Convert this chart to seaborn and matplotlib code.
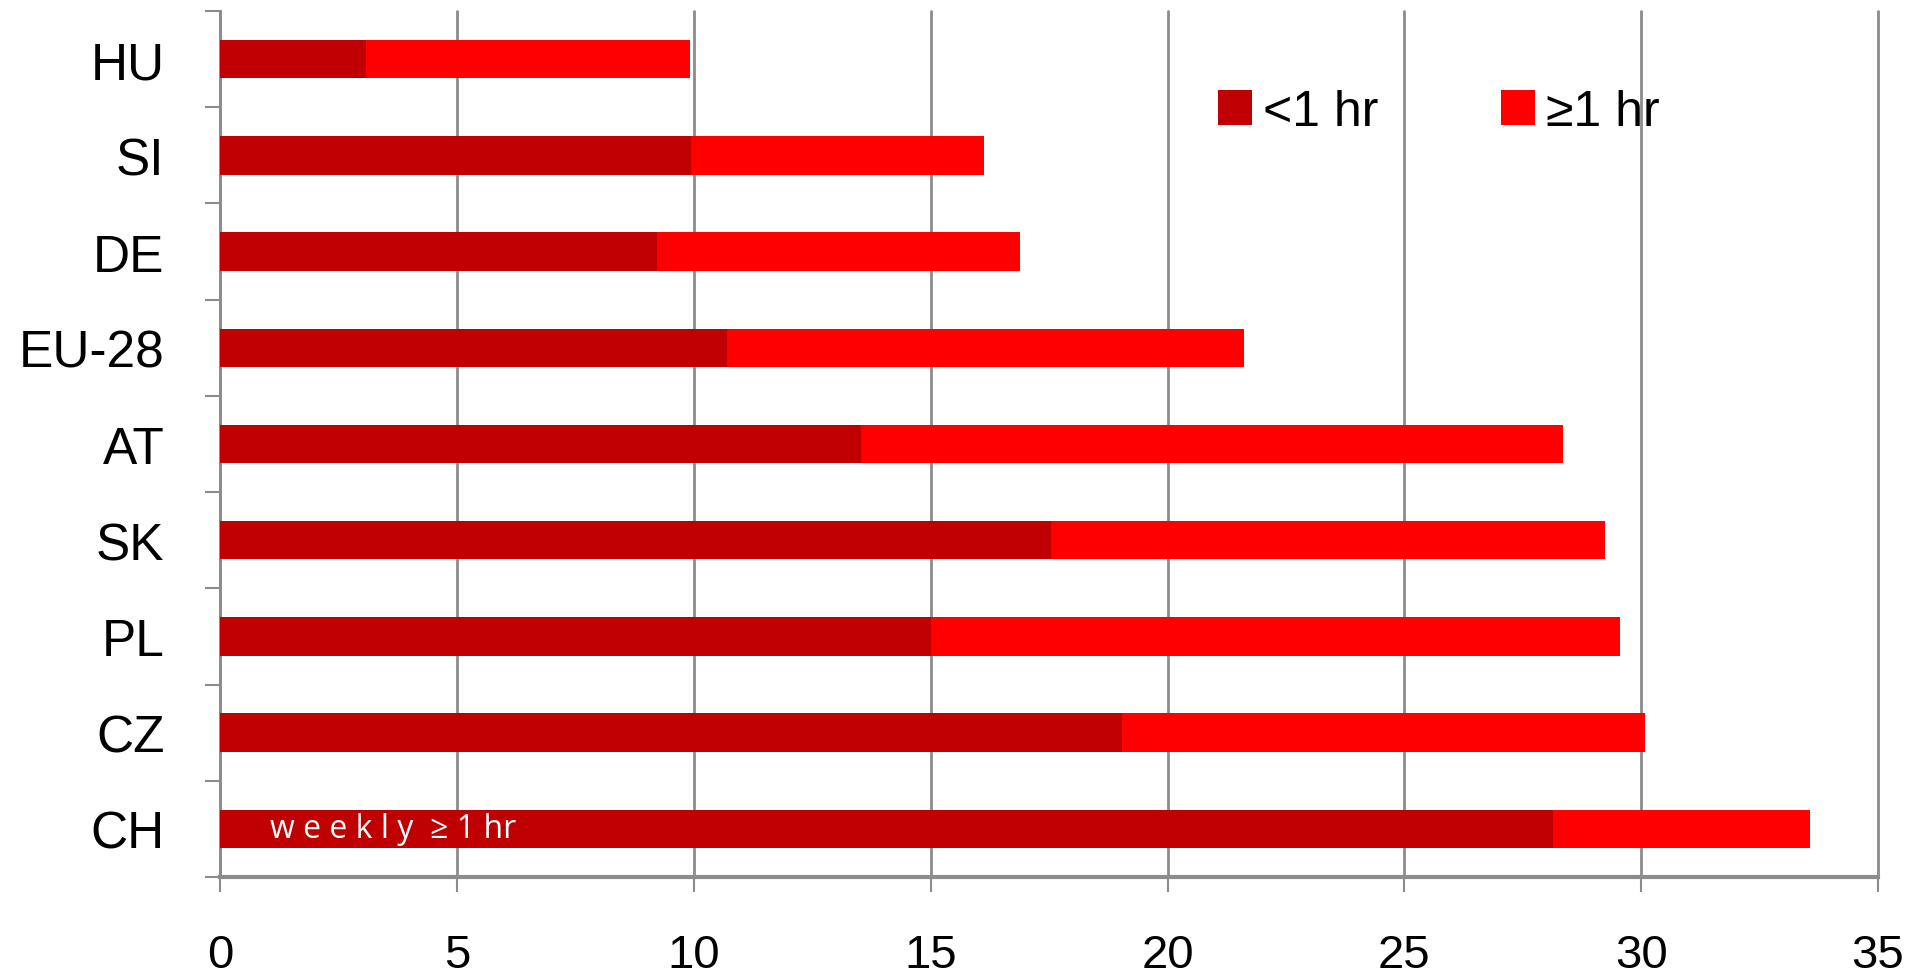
import matplotlib
matplotlib.use("Agg")
import matplotlib.pyplot as plt
from matplotlib.patches import Patch
import numpy as np
import pandas as pd
import seaborn as sns

# Share of respondents by country: short (<1 hr) and longer (>=1 hr) weekly activity
countries = ["HU", "SI", "DE", "EU-28", "AT", "SK", "PL", "CZ", "CH"]
under_1hr = [3.07, 9.94, 9.22, 10.70, 13.54, 17.54, 15.01, 19.04, 28.13]
over_1hr = [6.85, 6.19, 7.67, 10.92, 14.80, 11.70, 14.54, 11.03, 5.43]
x_ticks = [0, 5, 10, 15, 20, 25, 30, 35]

DARK = "#C00000"
BRIGHT = "#FF0000"
GRID = "#8C8C8C"

df = pd.DataFrame({"country": countries, "lt1": under_1hr, "ge1": over_1hr})
df["total"] = df["lt1"] + df["ge1"]

sns.set_theme(style="white")
plt.rcParams["font.family"] = ["Liberation Sans", "DejaVu Sans"]
plt.rcParams["text.color"] = "black"
plt.rcParams["xtick.color"] = "black"
plt.rcParams["ytick.color"] = "black"

fig = plt.figure(figsize=(19.17, 9.79), dpi=100)
ax = fig.add_axes([0.1148, 0.1032, 0.8649, 0.8845])

# Stacked bars: full length first, darker segment on top of it
sns.barplot(data=df, x="total", y="country", order=countries, orient="h",
            color=BRIGHT, saturation=1, width=0.4, linewidth=0, ax=ax, zorder=3)
sns.barplot(data=df, x="lt1", y="country", order=countries, orient="h",
            color=DARK, saturation=1, width=0.4, linewidth=0, ax=ax, zorder=4)

ax.set_xlim(0, 35)
ax.set_ylim(len(countries) - 0.5, -0.5)
ax.set_xlabel("")
ax.set_ylabel("")

# Vertical gridlines
ax.set_xticks(x_ticks)
ax.set_xticklabels([str(t) for t in x_ticks], fontsize=34)
ax.xaxis.grid(True, color=GRID, linewidth=2)
for gl in ax.get_xgridlines():
    gl.set_clip_on(False)
ax.yaxis.grid(False)
ax.set_axisbelow(True)
ax.tick_params(axis="x", which="major", bottom=True, length=11, width=1.5,
               color=GRID, labelcolor="black", pad=29)

# Category labels without marks; tick marks between categories
ax.set_yticks(range(len(countries)))
ax.set_yticklabels(countries, fontsize=37)
ax.tick_params(axis="y", which="major", left=False, length=0, pad=40,
               labelcolor="black")
ax.set_yticks(np.arange(-0.5, len(countries)), minor=True)
ax.tick_params(axis="y", which="minor", left=True, length=11, width=1.5, color=GRID)

for side in ["top", "right"]:
    ax.spines[side].set_visible(False)
ax.spines["left"].set_color(GRID)
ax.spines["left"].set_linewidth(2)
ax.spines["bottom"].set_color(GRID)
ax.spines["bottom"].set_linewidth(3)
ax.spines["bottom"].set_zorder(5)

# Inline note on the CH bar
ax.text(1.05, countries.index("CH"), "w e e k l y  ≥ 1 hr", color="white",
        fontsize=23, va="center", ha="left", zorder=6,
        family=["Open Sans", "DejaVu Sans"])

handles = [Patch(facecolor=DARK, edgecolor="none", label="<1 hr"),
           Patch(facecolor=BRIGHT, edgecolor="none", label="≥1 hr")]
fig.legend(handles=handles, loc="center left", bbox_to_anchor=(1218 / 1917, 1 - 113 / 979),
           ncol=2, frameon=False, fontsize=36, handlelength=0.68, handleheight=0.68,
           handletextpad=0.22, columnspacing=2.45, borderpad=0, borderaxespad=0)

fig.savefig("out.png", dpi=100, facecolor="white")
